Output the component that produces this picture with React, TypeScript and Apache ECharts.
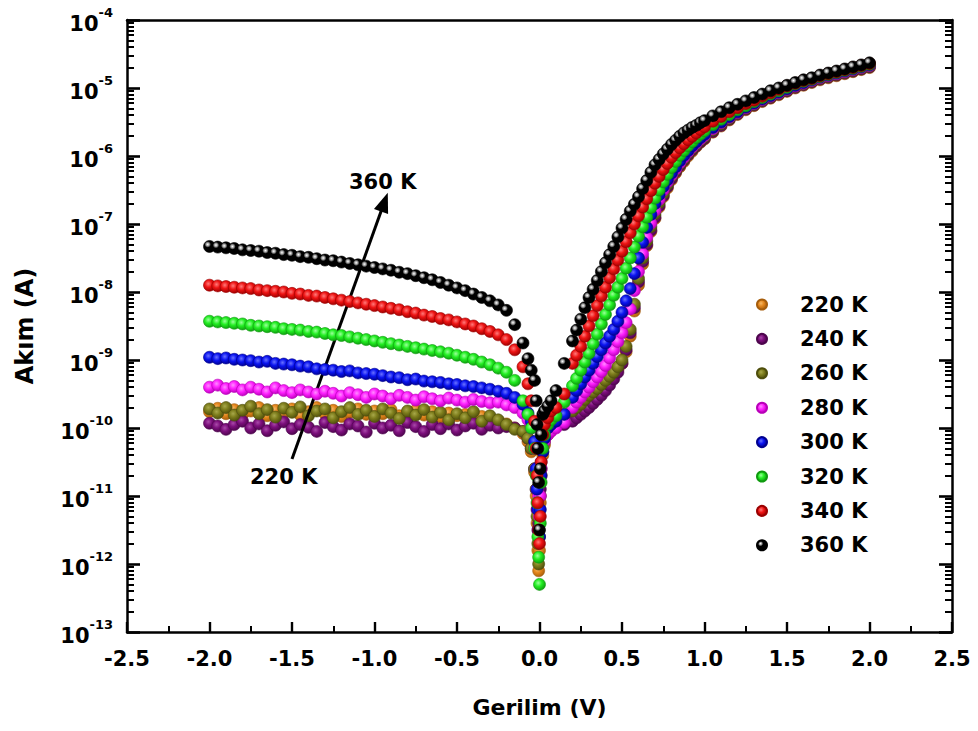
import React, { useEffect, useRef } from "react";
import * as echarts from "echarts";

// Voltage grid (V): reverse (-2.0..-0.2), near zero, forward (0.2..1.0 fine), forward (1.05..2.0)
const voltages = [
  -2.0, -1.95, -1.9, -1.85, -1.8, -1.75, -1.7, -1.65, -1.6, -1.55, -1.5, -1.45, -1.4, -1.35, -1.3, -1.25, -1.2, -1.15, -1.1, -1.05,
  -1.0, -0.95, -0.9, -0.85, -0.8, -0.75, -0.7, -0.65, -0.6, -0.55, -0.5, -0.45, -0.4, -0.35, -0.3, -0.25, -0.2,
  -0.15, -0.1, -0.07, -0.05, -0.03, -0.02, -0.015, -0.01, -0.005, 0.0, 0.005, 0.01, 0.02, 0.03, 0.05, 0.07, 0.1, 0.15,
  0.2, 0.225, 0.25, 0.275, 0.3, 0.325, 0.35, 0.375, 0.4, 0.425, 0.45, 0.475, 0.5, 0.525, 0.55, 0.575, 0.6, 0.625, 0.65, 0.675,
  0.7, 0.725, 0.75, 0.775, 0.8, 0.825, 0.85, 0.875, 0.9, 0.925, 0.95, 0.975, 1.0,
  1.05, 1.1, 1.15, 1.2, 1.25, 1.3, 1.35, 1.4, 1.45, 1.5, 1.55, 1.6, 1.65, 1.7, 1.75, 1.8, 1.85, 1.9, 1.95, 2.0,
];

const temperatures = ["220 K", "240 K", "260 K", "280 K", "300 K", "320 K", "340 K", "360 K"];

// log10 of current (A) at each voltage above
const logI_220K = [
  -9.76, -9.71, -9.79, -9.73, -9.8, -9.75, -9.7, -9.82, -9.74, -9.78, -9.72, -9.81, -9.76, -9.7, -9.79, -9.74, -9.83, -9.77, -9.72, -9.8,
  -9.75, -9.79, -9.73, -9.82, -9.77, -9.74, -9.81, -9.76, -9.84, -9.78, -9.82, -9.8, -9.86, -9.83, -9.88, -9.9, -9.94,
  -10.0, -10.08, -10.2, -10.35, -10.65, -11.0, -11.4, -11.8, -12.1, -11.8, -11.1, -10.7, -10.4, -10.25, -10.1, -10.0, -9.9, -9.82,
  -9.82, -9.76, -9.7, -9.64, -9.58, -9.52, -9.46, -9.4, -9.34, -9.28, -9.22, -9.14, -9.05, -8.88, -8.65, -8.28, -7.9, -7.59, -7.32, -7.11,
  -6.92, -6.75, -6.6, -6.47, -6.35, -6.25, -6.16, -6.08, -6.0, -5.93, -5.86, -5.8, -5.75,
  -5.65, -5.56, -5.47, -5.39, -5.32, -5.26, -5.2, -5.15, -5.1, -5.05, -5.0, -4.96, -4.92, -4.88, -4.85, -4.82, -4.79, -4.76, -4.73, -4.7,
];
const logI_240K = [
  -9.93, -9.97, -10.02, -9.95, -9.9, -10.0, -9.94, -10.04, -9.96, -9.91, -10.01, -9.95, -9.99, -10.05, -9.92, -9.98, -10.03, -9.94, -9.97, -10.06,
  -9.93, -10.0, -9.96, -10.04, -9.92, -9.98, -10.05, -9.95, -10.01, -9.94, -10.03, -9.97, -9.93, -10.02, -9.96, -10.0, -9.98,
  -10.0, -10.05, -10.15, -10.3, -10.6, -10.9, -11.2, -11.5, -11.4, -11.2, -10.9, -10.5, -10.2, -10.1, -10.05, -10.0, -9.97, -9.95,
  -9.9, -9.85, -9.8, -9.75, -9.7, -9.64, -9.58, -9.52, -9.45, -9.37, -9.28, -9.18, -9.05, -8.85, -8.6, -8.23, -7.85, -7.55, -7.3, -7.09,
  -6.9, -6.73, -6.58, -6.45, -6.33, -6.23, -6.14, -6.06, -5.98, -5.91, -5.85, -5.79, -5.74,
  -5.64, -5.55, -5.46, -5.38, -5.31, -5.25, -5.19, -5.14, -5.09, -5.04, -4.99, -4.95, -4.91, -4.87, -4.84, -4.81, -4.78, -4.75, -4.72, -4.69,
];
const logI_260K = [
  -9.72, -9.78, -9.7, -9.81, -9.74, -9.68, -9.79, -9.73, -9.84, -9.71, -9.77, -9.69, -9.82, -9.75, -9.72, -9.85, -9.76, -9.7, -9.8, -9.74,
  -9.83, -9.72, -9.78, -9.86, -9.75, -9.81, -9.73, -9.84, -9.77, -9.88, -9.79, -9.85, -9.76, -9.9, -9.82, -9.88, -9.95,
  -10.02, -10.05, -10.15, -10.3, -10.6, -10.9, -11.3, -11.7, -12.0, -11.6, -11.0, -10.6, -10.35, -10.2, -10.05, -9.95, -9.85, -9.8,
  -9.75, -9.7, -9.65, -9.58, -9.52, -9.47, -9.42, -9.36, -9.3, -9.24, -9.18, -9.1, -9.0, -8.8, -8.55, -8.18, -7.8, -7.5, -7.25, -7.04,
  -6.85, -6.69, -6.55, -6.42, -6.3, -6.21, -6.12, -6.04, -5.96, -5.89, -5.83, -5.77, -5.72,
  -5.62, -5.53, -5.45, -5.37, -5.3, -5.24, -5.18, -5.13, -5.08, -5.03, -4.98, -4.94, -4.9, -4.86, -4.83, -4.8, -4.77, -4.74, -4.71, -4.68,
];
const logI_280K = [
  -9.4, -9.37, -9.42, -9.39, -9.44, -9.4, -9.43, -9.47, -9.41, -9.45, -9.48, -9.44, -9.47, -9.5, -9.46, -9.49, -9.53, -9.48, -9.51, -9.55,
  -9.5, -9.53, -9.57, -9.52, -9.55, -9.59, -9.54, -9.57, -9.6, -9.56, -9.59, -9.62, -9.58, -9.61, -9.63, -9.62, -9.66,
  -9.7, -9.78, -9.88, -10.0, -10.3, -10.6, -10.9, -11.2, -11.0, -11.3, -11.0, -10.6, -10.3, -10.2, -10.1, -10.05, -10.0, -9.92,
  -9.7, -9.62, -9.55, -9.47, -9.4, -9.32, -9.25, -9.17, -9.08, -8.97, -8.85, -8.73, -8.6, -8.45, -8.25, -7.98, -7.7, -7.44, -7.2, -6.99,
  -6.8, -6.64, -6.5, -6.38, -6.28, -6.19, -6.1, -6.02, -5.94, -5.87, -5.81, -5.75, -5.7,
  -5.6, -5.51, -5.43, -5.36, -5.29, -5.23, -5.17, -5.12, -5.07, -5.02, -4.97, -4.93, -4.89, -4.85, -4.82, -4.79, -4.76, -4.73, -4.7, -4.67,
];
const logI_300K = [
  -8.96, -8.98, -8.97, -8.99, -9.0, -9.01, -9.03, -9.02, -9.05, -9.06, -9.07, -9.09, -9.1, -9.13, -9.14, -9.15, -9.17, -9.16, -9.19, -9.2,
  -9.21, -9.23, -9.25, -9.26, -9.29, -9.28, -9.31, -9.32, -9.33, -9.35, -9.36, -9.38, -9.39, -9.41, -9.43, -9.46, -9.49,
  -9.55, -9.65, -9.78, -9.9, -10.2, -10.6, -10.9, -11.2, -11.5, -11.6, -11.2, -10.7, -10.35, -10.15, -10.0, -9.95, -9.9, -9.8,
  -9.55, -9.45, -9.35, -9.25, -9.15, -9.05, -8.95, -8.85, -8.75, -8.65, -8.55, -8.43, -8.3, -8.13, -7.95, -7.73, -7.5, -7.27, -7.05, -6.86,
  -6.7, -6.57, -6.45, -6.35, -6.25, -6.16, -6.07, -5.99, -5.92, -5.85, -5.79, -5.73, -5.68,
  -5.58, -5.5, -5.42, -5.35, -5.28, -5.22, -5.16, -5.11, -5.06, -5.01, -4.96, -4.92, -4.88, -4.84, -4.81, -4.78, -4.75, -4.72, -4.69, -4.66,
];
const logI_320K = [
  -8.43, -8.44, -8.45, -8.46, -8.47, -8.49, -8.5, -8.51, -8.52, -8.54, -8.55, -8.56, -8.58, -8.59, -8.61, -8.63, -8.64, -8.66, -8.68, -8.7,
  -8.72, -8.74, -8.76, -8.78, -8.8, -8.82, -8.84, -8.86, -8.88, -8.9, -8.93, -8.96, -8.99, -9.03, -9.07, -9.12, -9.18,
  -9.3, -9.6, -9.8, -10.0, -10.3, -10.7, -11.1, -11.6, -11.9, -12.3, -11.4, -10.8, -10.3, -10.1, -9.95, -9.88, -9.82, -9.62,
  -9.38, -9.27, -9.15, -9.03, -8.9, -8.76, -8.62, -8.47, -8.33, -8.19, -8.05, -7.93, -7.8, -7.65, -7.5, -7.34, -7.18, -7.04, -6.9, -6.76,
  -6.62, -6.5, -6.38, -6.27, -6.17, -6.08, -5.99, -5.92, -5.85, -5.79, -5.73, -5.68, -5.63,
  -5.54, -5.46, -5.39, -5.32, -5.26, -5.2, -5.14, -5.09, -5.04, -4.99, -4.94, -4.9, -4.87, -4.83, -4.8, -4.77, -4.74, -4.71, -4.68, -4.65,
];
const logI_340K = [
  -7.9, -7.91, -7.92, -7.93, -7.94, -7.95, -7.97, -7.98, -7.99, -8.0, -8.02, -8.03, -8.05, -8.06, -8.08, -8.1, -8.12, -8.14, -8.16, -8.18,
  -8.2, -8.22, -8.24, -8.26, -8.29, -8.31, -8.34, -8.36, -8.39, -8.41, -8.44, -8.47, -8.5, -8.54, -8.58, -8.63, -8.7,
  -8.85, -9.1, -9.35, -9.6, -9.9, -10.3, -10.7, -11.1, -11.5, -11.7, -11.3, -10.5, -10.1, -9.95, -9.85, -9.75, -9.7, -9.5,
  -9.05, -8.93, -8.8, -8.65, -8.5, -8.35, -8.2, -8.06, -7.93, -7.79, -7.66, -7.53, -7.4, -7.26, -7.13, -7.0, -6.88, -6.75, -6.63, -6.51,
  -6.4, -6.3, -6.2, -6.11, -6.02, -5.95, -5.88, -5.82, -5.76, -5.71, -5.66, -5.61, -5.57,
  -5.49, -5.42, -5.35, -5.29, -5.23, -5.18, -5.12, -5.07, -5.02, -4.97, -4.93, -4.89, -4.86, -4.82, -4.79, -4.76, -4.73, -4.7, -4.67, -4.64,
];
const logI_360K = [
  -7.33, -7.34, -7.35, -7.36, -7.38, -7.39, -7.4, -7.42, -7.43, -7.45, -7.46, -7.48, -7.49, -7.51, -7.53, -7.54, -7.56, -7.58, -7.6, -7.62,
  -7.64, -7.66, -7.68, -7.71, -7.73, -7.76, -7.79, -7.82, -7.86, -7.9, -7.94, -7.98, -8.03, -8.08, -8.13, -8.19, -8.27,
  -8.48, -8.75, -8.98, -9.15, -9.3, -9.6, -9.95, -10.3, -10.8, -11.5, -10.6, -10.1, -9.8, -9.75, -9.68, -9.6, -9.45, -9.05,
  -8.72, -8.56, -8.4, -8.23, -8.08, -7.96, -7.83, -7.7, -7.57, -7.45, -7.33, -7.19, -7.06, -6.93, -6.81, -6.71, -6.6, -6.48, -6.36, -6.24,
  -6.13, -6.05, -5.97, -5.9, -5.83, -5.77, -5.71, -5.66, -5.62, -5.58, -5.55, -5.51, -5.48,
  -5.41, -5.35, -5.29, -5.24, -5.19, -5.14, -5.09, -5.04, -5.0, -4.96, -4.92, -4.88, -4.85, -4.81, -4.78, -4.75, -4.72, -4.69, -4.66, -4.63,
];

const seriesLogs = [logI_220K, logI_240K, logI_260K, logI_280K, logI_300K, logI_320K, logI_340K, logI_360K];

// marker colours: [highlight, base, rim]
const markerColors = [
  ["#f6b967", "#e4861c", "#a65d0c"],
  ["#a94aa9", "#7c0f7c", "#4d054d"],
  ["#a8a84a", "#7d7d1c", "#4e4e0c"],
  ["#ff8cff", "#ff22ff", "#b800b8"],
  ["#6a72ff", "#0a14f0", "#00008e"],
  ["#9cff9c", "#22ee22", "#0f9a0f"],
  ["#ff7a7a", "#ee1414", "#9a0000"],
  ["#ffffff", "#000000", "#000000"],
];

// annotation arrow (from 220 K towards 360 K), in data units
const arrowStart = [-1.5, 3.5e-11];
const arrowEnd = [-0.94, 2.1e-7];

// axis ranges
const xMin = -2.5;
const xMax = 2.5;
const xStep = 0.5;
const yMinExp = -13;
const yMaxExp = -4;
const yMin = Math.pow(10, yMinExp);
const yMax = Math.pow(10, yMaxExp);

// grid layout (px)
const GRID = { left: 127, right: 26, top: 20, bottom: 99 };
const W = 978;
const H = 731;

const FONT = "'DejaVu Sans', 'Liberation Sans', sans-serif";

function ballFill(i: number) {
  const [hi, base, rim] = markerColors[i];
  if (i === 7) {
    return new echarts.graphic.RadialGradient(0.35, 0.33, 0.7, [
      { offset: 0, color: "#ffffff" },
      { offset: 0.2, color: "#9a9a9a" },
      { offset: 0.38, color: "#000000" },
      { offset: 1, color: "#000000" },
    ]);
  }
  return new echarts.graphic.RadialGradient(0.4, 0.38, 0.65, [
    { offset: 0, color: hi },
    { offset: 0.45, color: base },
    { offset: 1, color: rim },
  ]);
}

// Inside frame ticks as markLine segments in data space (tick length given in px).
function buildTickLines() {
  const plotW = W - GRID.left - GRID.right;
  const plotH = H - GRID.top - GRID.bottom;
  const xPerPx = (xMax - xMin) / plotW;
  const decPerPx = (yMaxExp - yMinExp) / plotH;
  const lines: any[] = [];
  const nX = Math.round((xMax - xMin) / (xStep / 2));
  for (let k = 0; k <= nX; k++) {
    const x = xMin + (k * xStep) / 2;
    const major = k % 2 === 0;
    const len = major ? 10 : 6;
    lines.push([
      { coord: [x, yMin], lineStyle: { color: "#000", width: major ? 2.4 : 2, type: "solid" } },
      { coord: [x, Math.pow(10, yMinExp + len * decPerPx)] },
    ]);
  }
  for (let e = yMinExp; e <= yMaxExp; e++) {
    const vals: [number, number, number][] = [[Math.pow(10, e), 13, 2.6]];
    if (e < yMaxExp) for (let m = 2; m <= 9; m++) vals.push([m * Math.pow(10, e), 7, 2]);
    for (const [v, len, w] of vals) {
      const ls = { color: "#000", width: w, type: "solid" };
      lines.push([{ coord: [xMin, v], lineStyle: ls }, { coord: [xMin + len * xPerPx, v] }]);
      lines.push([{ coord: [xMax, v], lineStyle: ls }, { coord: [xMax - len * xPerPx, v] }]);
    }
  }
  return lines;
}

export default function App() {
  const ref = useRef<HTMLDivElement>(null);
  useEffect(() => {
    if (!ref.current) return;
    const chart = echarts.init(ref.current, undefined, { renderer: "svg" });

    const axisLine = { show: true, onZero: false, lineStyle: { color: "#000", width: 2.5 } };

    const scatterSeries = temperatures.map((name, i) => ({
      name,
      type: "scatter",
      xAxisIndex: 0,
      yAxisIndex: 0,
      symbol: "circle",
      symbolSize: 12,
      data: voltages.map((v, k) => [v, Math.pow(10, seriesLogs[i][k])]),
      itemStyle: {
        color: ballFill(i),
        borderColor: markerColors[i][2],
        borderWidth: 0.6,
        opacity: 1,
      },
      emphasis: { disabled: true },
      z: 2 + i,
    }));

    const yLabel = {
      formatter: (v: number) => `{b|10}{s|${Math.round(Math.log10(v))}}`,
      margin: 14,
      rich: {
        b: { fontSize: 21, fontWeight: "bold", fontFamily: FONT, color: "#000", padding: [8, 0, 0, 0] },
        s: { fontSize: 13, fontWeight: "bold", fontFamily: FONT, color: "#000", verticalAlign: "top" },
      },
    };

    chart.setOption({
      animation: false,
      backgroundColor: "#fff",
      grid: { ...GRID, containLabel: false },
      legend: {
        data: temperatures,
        orient: "vertical",
        left: 751,
        top: 289,
        itemWidth: 66,
        itemHeight: 10,
        itemGap: 13.4,
        icon: "circle",
        selectedMode: false,
        textStyle: { fontSize: 21, fontWeight: "bold", fontFamily: FONT, color: "#000", lineHeight: 20 },
      },
      xAxis: [
        {
          type: "value",
          min: xMin,
          max: xMax,
          interval: xStep,
          position: "bottom",
          axisLine,
          axisTick: { show: false },
          minorTick: { show: false },
          splitLine: { show: false },
          axisLabel: {
            formatter: (v: number) => v.toFixed(1),
            fontSize: 21,
            fontWeight: "bold",
            fontFamily: FONT,
            color: "#000",
            margin: 16,
          },
          name: "Gerilim (V)",
          nameLocation: "middle",
          nameGap: 64,
          nameTextStyle: { fontSize: 22, fontWeight: "bold", fontFamily: FONT, color: "#000" },
        },
        {
          type: "value",
          min: xMin,
          max: xMax,
          position: "top",
          axisLine,
          axisTick: { show: false },
          minorTick: { show: false },
          axisLabel: { show: false },
          splitLine: { show: false },
        },
      ],
      yAxis: [
        {
          type: "log",
          logBase: 10,
          min: yMin,
          max: yMax,
          splitNumber: 9,
          position: "left",
          axisLine,
          axisTick: { show: false },
          minorTick: { show: false },
          splitLine: { show: false },
          axisLabel: yLabel,
          name: "Akım (A)",
          nameLocation: "middle",
          nameGap: 90,
          nameRotate: 90,
          nameTextStyle: { fontSize: 24, fontWeight: "bold", fontFamily: FONT, color: "#000" },
        },
        {
          type: "log",
          logBase: 10,
          min: yMin,
          max: yMax,
          splitNumber: 9,
          position: "right",
          axisLine,
          axisTick: { show: false },
          minorTick: { show: false },
          splitLine: { show: false },
          axisLabel: { show: false },
        },
      ],
      series: [
        ...scatterSeries,
        {
          name: "frameTicks",
          type: "scatter",
          data: [],
          xAxisIndex: 0,
          yAxisIndex: 0,
          clip: false,
          z: 25,
          markLine: {
            silent: true,
            symbol: ["none", "none"],
            label: { show: false },
            lineStyle: { color: "#000", width: 2, type: "solid" },
            emphasis: { disabled: true },
            data: buildTickLines(),
          },
        },
        {
          name: "arrow",
          type: "scatter",
          data: [],
          xAxisIndex: 0,
          yAxisIndex: 0,
          z: 20,
          markLine: {
            silent: true,
            symbol: ["none", "triangle"],
            symbolSize: [15, 20],
            label: { show: false },
            lineStyle: { color: "#000", width: 3, type: "solid" },
            emphasis: { disabled: true },
            data: [[{ coord: arrowStart }, { coord: arrowEnd }]],
          },
        },
      ],
      graphic: [
        {
          type: "text",
          left: 349,
          top: 171,
          z: 30,
          style: { text: "360 K", fontSize: 21, fontWeight: "bold", fontFamily: FONT, fill: "#000" },
        },
        {
          type: "text",
          left: 250,
          top: 466,
          z: 30,
          style: { text: "220 K", fontSize: 21, fontWeight: "bold", fontFamily: FONT, fill: "#000" },
        },
      ],
    });

    return () => chart.dispose();
  }, []);

  return (
    <div ref={ref} style={{ position: "fixed", left: 0, top: 0, width: W, height: H, background: "#fff" }} />
  );
}
